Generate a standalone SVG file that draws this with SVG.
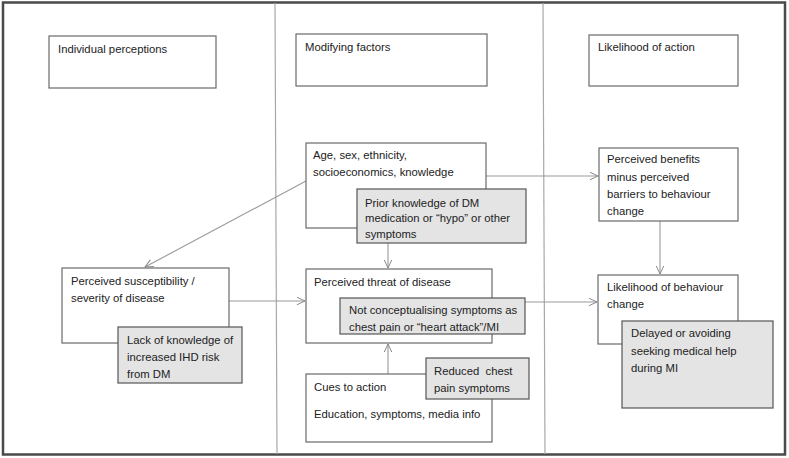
<svg xmlns="http://www.w3.org/2000/svg" width="789" height="458" viewBox="0 0 789 458">
<defs>
<marker id="arr" viewBox="0 0 10 10" refX="9.5" refY="5" markerWidth="9" markerHeight="9" markerUnits="userSpaceOnUse" orient="auto">
<path d="M0.5,0.8 L9.5,5 L0.5,9.2" fill="none" stroke="#8a8a8a" stroke-width="1.1"/>
</marker>
<clipPath id="clipPrior"><rect x="357" y="189" width="169" height="54"/></clipPath>
</defs>
<style>
text{font-family:"Liberation Sans",Arial,sans-serif;font-size:11.3px;fill:#222;}
.box{fill:#fff;stroke:#6a6a6a;stroke-width:1.2;}
.gbox{fill:#e4e4e4;stroke:#555;stroke-width:1.2;}
.conn{fill:none;stroke:#999;stroke-width:1.1;marker-end:url(#arr);}
.div{stroke:#a8a8a8;stroke-width:1.2;}
</style>
<rect x="0" y="0" width="789" height="458" fill="#fff"/>
<rect x="3" y="2.5" width="782" height="452" fill="none" stroke="#4a4a4a" stroke-width="2.5"/>
<line class="div" x1="275" y1="3" x2="277" y2="454"/>
<line class="div" x1="543" y1="3" x2="545" y2="454"/>

<g id="connectors">
<line class="conn" x1="306" y1="181" x2="145" y2="267"/>
<line class="conn" x1="486" y1="176" x2="598" y2="176"/>
<line class="conn" x1="388" y1="243" x2="388" y2="268"/>
<line class="conn" x1="229" y1="301" x2="305" y2="301"/>
<line class="conn" x1="525" y1="302" x2="597" y2="302"/>
<line class="conn" x1="388" y1="374" x2="388" y2="344"/>
<line class="conn" x1="660" y1="221" x2="660" y2="274"/>
</g>

<g id="individual-perceptions">
<rect class="box" x="49" y="36" width="167" height="52"/>
<text x="58" y="53">Individual perceptions</text>
</g>
<g id="modifying-factors">
<rect class="box" x="296" y="34" width="191" height="52"/>
<text x="305" y="51">Modifying factors</text>
</g>
<g id="likelihood-of-action">
<rect class="box" x="589" y="35" width="149" height="51"/>
<text x="598" y="51">Likelihood of action</text>
</g>

<g id="age-sex">
<rect class="box" x="306" y="143" width="180" height="85"/>
<text x="313" y="159">Age, sex, ethnicity,</text>
<text x="313" y="176">socioeconomics, knowledge</text>
</g>
<g id="prior-knowledge">
<rect class="gbox" x="357" y="189" width="169" height="54"/>
<g clip-path="url(#clipPrior)">
<text x="365" y="207">Prior knowledge of DM</text>
<text x="365" y="222">medication or “hypo” or other</text>
<text x="365" y="238">symptoms</text>
</g>
</g>

<g id="perceived-benefits">
<rect class="box" x="599" y="148" width="139" height="73"/>
<text x="607" y="163">Perceived benefits</text>
<text x="607" y="181">minus perceived</text>
<text x="607" y="198">barriers to behaviour</text>
<text x="607" y="215">change</text>
</g>

<g id="perceived-susceptibility">
<rect class="box" x="62" y="268" width="167" height="75"/>
<text x="71" y="285">Perceived susceptibility /</text>
<text x="71" y="302">severity of disease</text>
</g>
<g id="lack-of-knowledge">
<rect class="gbox" x="118" y="327" width="124" height="56"/>
<text x="127" y="344">Lack of knowledge of</text>
<text x="127" y="361">increased IHD risk</text>
<text x="127" y="378">from DM</text>
</g>

<g id="perceived-threat">
<rect class="box" x="306" y="269" width="186" height="74"/>
<text x="314" y="286">Perceived threat of disease</text>
</g>
<g id="not-conceptualising">
<rect class="gbox" x="340" y="298" width="185" height="36"/>
<text x="349" y="314">Not conceptualising symptoms as</text>
<text x="349" y="331">chest pain or “heart attack”/MI</text>
</g>

<g id="cues-to-action">
<rect class="box" x="306" y="374" width="186" height="68"/>
<text x="314" y="391">Cues to action</text>
<text x="314" y="418">Education, symptoms, media info</text>
</g>
<g id="reduced-chest-pain">
<rect class="gbox" x="426" y="358" width="103" height="41"/>
<text x="434" y="375">Reduced&#160; chest</text>
<text x="434" y="392">pain symptoms</text>
</g>

<g id="likelihood-of-behaviour-change">
<rect class="box" x="598" y="275" width="140" height="69"/>
<text x="607" y="291">Likelihood of behaviour</text>
<text x="607" y="308">change</text>
</g>
<g id="delayed-help">
<rect class="gbox" x="622" y="321" width="151" height="87"/>
<text x="631" y="337">Delayed or avoiding</text>
<text x="631" y="355">seeking medical help</text>
<text x="631" y="372">during MI</text>
</g>
</svg>
